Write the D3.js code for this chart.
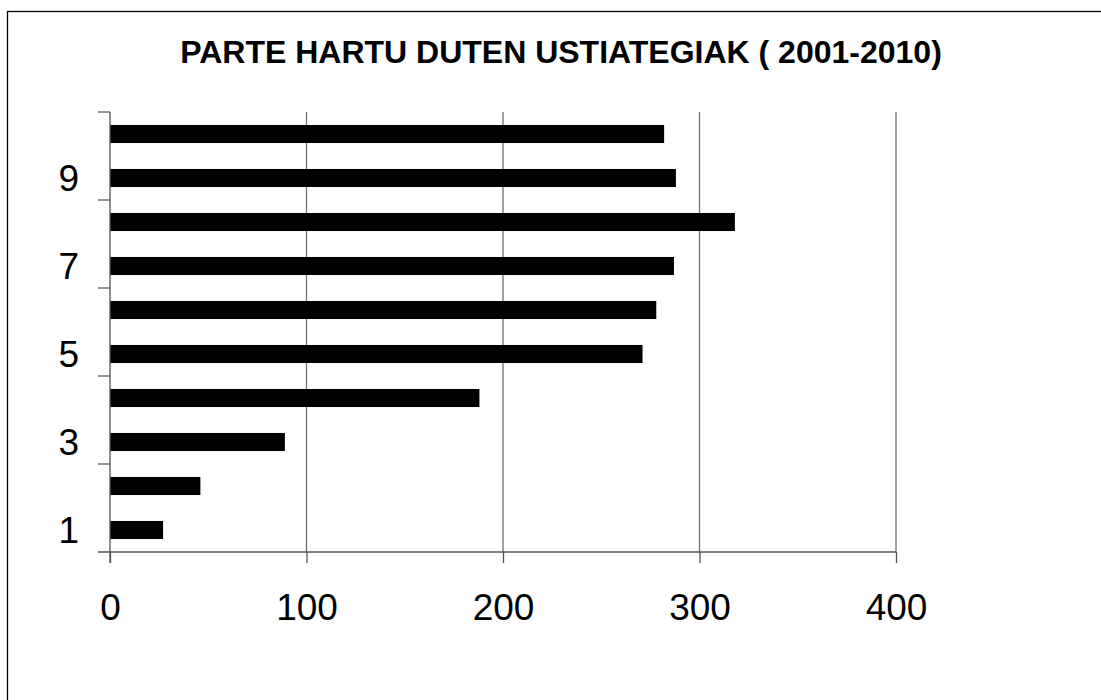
<!DOCTYPE html>
<html>
<head>
<meta charset="utf-8">
<script src="https://cdn.jsdelivr.net/npm/d3@7"></script>
<style>
  body { margin: 0; background: #fff; }
  text { font-family: "Liberation Sans", Arial, sans-serif; fill: #000; }
</style>
</head>
<body>
<div id="chart"></div>
<script>
// data
var categories = [1, 2, 3, 4, 5, 6, 7, 8, 9, 10];
var values = [27, 46, 89, 188, 271, 278, 287, 318, 288, 282];
var yLabels = [1, 3, 5, 7, 9];
var xTicks = [0, 100, 200, 300, 400];
var title = "PARTE HARTU DUTEN USTIATEGIAK ( 2001-2010)";

var svgWidth = 1101;
var svgHeight = 700;

var margin = { top: 112, right: 205, bottom: 148, left: 110 };
var chartWidth = svgWidth - margin.left - margin.right;
var chartHeight = svgHeight - margin.top - margin.bottom;

var svg = d3.select("#chart")
  .append("svg")
  .attr("width", svgWidth)
  .attr("height", svgHeight);

// outer frame (only top and left edges fall inside the window)
svg.append("rect")
  .attr("x", 7.5)
  .attr("y", 11.5)
  .attr("width", 1200)
  .attr("height", 1200)
  .attr("fill", "none")
  .attr("stroke", "#000")
  .attr("stroke-width", 1.3);

svg.append("text")
  .attr("x", 561)
  .attr("y", 63)
  .attr("text-anchor", "middle")
  .attr("font-size", "32px")
  .attr("font-weight", "bold")
  .text(title);

var chartGroup = svg.append("g")
  .attr("transform", `translate(${margin.left}, ${margin.top})`);

var xScale = d3.scaleLinear()
  .domain([0, 400])
  .range([0, chartWidth]);

var yScale = d3.scaleBand()
  .domain(categories)
  .range([chartHeight, 0])
  .paddingInner(0.59)
  .paddingOuter(0.295);

var step = yScale.step();
var gap = (step - yScale.bandwidth()) / 2;

// vertical gridlines
chartGroup.selectAll(".grid")
  .data(xTicks.slice(1))
  .enter()
  .append("line")
  .attr("class", "grid")
  .attr("x1", d => xScale(d))
  .attr("x2", d => xScale(d))
  .attr("y1", 0)
  .attr("y2", chartHeight)
  .attr("stroke", "#6e6e6e")
  .attr("stroke-width", 1.3);

// bars
chartGroup.selectAll(".bar")
  .data(values)
  .enter()
  .append("rect")
  .attr("class", "bar")
  .attr("x", xScale(0))
  .attr("y", (d, i) => yScale(categories[i]))
  .attr("width", d => xScale(d) - xScale(0))
  .attr("height", yScale.bandwidth())
  .attr("fill", "#000");

// x axis
var bottomAxis = d3.axisBottom(xScale)
  .tickValues(xTicks)
  .tickSize(11)
  .tickPadding(31)
  .tickSizeOuter(0);

var xAxis = chartGroup.append("g")
  .attr("transform", `translate(0, ${chartHeight})`)
  .call(bottomAxis);
xAxis.select(".domain").remove();
xAxis.selectAll(".tick line").attr("stroke", "#555").attr("stroke-width", 1.3);
xAxis.selectAll(".tick text")
  .attr("font-size", "37px")
  .attr("font-family", "Liberation Sans, Arial, sans-serif")
  .attr("fill", "#000");

chartGroup.append("line")
  .attr("x1", -12)
  .attr("x2", chartWidth)
  .attr("y1", chartHeight)
  .attr("y2", chartHeight)
  .attr("stroke", "#555")
  .attr("stroke-width", 1.3);

// y axis line, ticks every second category boundary
chartGroup.append("line")
  .attr("x1", 0)
  .attr("x2", 0)
  .attr("y1", 0)
  .attr("y2", chartHeight + 11)
  .attr("stroke", "#555")
  .attr("stroke-width", 1.3);

chartGroup.selectAll(".ytick")
  .data(categories.filter(c => c % 2 === 0))
  .enter()
  .append("line")
  .attr("class", "ytick")
  .attr("x1", -12)
  .attr("x2", 0)
  .attr("y1", d => yScale(d) - gap)
  .attr("y2", d => yScale(d) - gap)
  .attr("stroke", "#555")
  .attr("stroke-width", 1.3);

chartGroup.selectAll(".ylabel")
  .data(yLabels)
  .enter()
  .append("text")
  .attr("class", "ylabel")
  .attr("x", -31)
  .attr("y", d => yScale(d) + yScale.bandwidth() / 2)
  .attr("dy", "0.36em")
  .attr("text-anchor", "end")
  .attr("font-size", "37px")
  .text(d => d);
</script>
</body>
</html>
